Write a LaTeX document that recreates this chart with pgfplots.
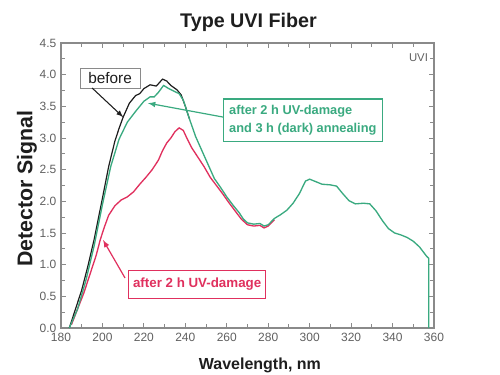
\documentclass[border=0pt]{standalone}
\usepackage{pgfplots}
\pgfplotsset{compat=1.18}
\usepackage{fontspec}
\setmainfont{Liberation Sans}
\definecolor{cgreen}{HTML}{3AAA80}
\definecolor{cred}{HTML}{E0305E}
\definecolor{cblack}{HTML}{1E1E1E}
\definecolor{cgray}{HTML}{606060}
\definecolor{cframe}{HTML}{8A8A8A}
\begin{document}
\begin{tikzpicture}[x=0.75pt,y=0.75pt]
\useasboundingbox (-61,-47) rectangle (439,328);
\begin{axis}[
  at={(0,0)}, anchor=south west,
  scale only axis, width=279.75pt, height=213.75pt,
  xmin=180, xmax=360, ymin=0, ymax=4.5,
  xtick={180,200,...,360}, minor xtick={190,210,...,350},
  ytick={0,0.5,...,4.5}, minor ytick={0.25,0.75,...,4.25},
  yticklabel style={/pgf/number format/.cd,fixed,fixed zerofill,precision=1},
  /pgf/number format/assume math mode=true,
  tick align=inside, major tick length=4pt, minor tick length=3pt,
  axis line style={cframe, line width=0.8pt},
  every tick/.style={cframe, line width=0.7pt},
  tick label style={font=\fontsize{9}{10}\selectfont, text=cgray},
  clip=false,
]
% red: after 2 h UV-damage
\addplot[cred, line width=1pt] coordinates {
(185,0.05) (188,0.3) (191,0.55) (194,0.85) (197,1.15) (199,1.4) (201,1.6) (203,1.78)
(206,1.93) (209,2.02) (212,2.07) (215,2.15) (218,2.27) (221,2.38) (224,2.5) (227,2.65)
(229,2.8) (231,2.92) (233,3.0) (235,3.1) (237,3.16) (239,3.12) (241,2.98) (243,2.85)
(246,2.7) (249,2.55) (252,2.38) (255,2.25) (258,2.12) (261,1.98) (264,1.85) (267,1.72)
(270,1.63) (273,1.61) (276,1.62) (278,1.58) (280,1.61) (283,1.71)
};
% black: before
\addplot[cblack, line width=0.9pt] coordinates {
(184,0) (187,0.3) (190,0.6) (193,0.98) (196,1.4) (200,2.05) (203,2.55) (206,2.95)
(208,3.15) (210,3.33) (213,3.55) (216,3.67) (218,3.7) (220,3.78) (223,3.84) (226,3.82)
(229,3.93) (231,3.9) (233,3.83) (236,3.76) (238,3.68) (240,3.5) (242,3.3)
};
% green: after annealing
\addplot[cgreen, line width=1pt] coordinates {
(184,0) (188,0.3) (192,0.75) (196,1.3) (200,1.95) (204,2.55) (208,2.98) (212,3.25)
(216,3.42) (220,3.58) (223,3.65) (225,3.65) (227,3.72) (229.5,3.83) (232,3.78)
(237,3.7) (239,3.6) (242,3.3) (245,3.02) (248,2.8) (251,2.58) (254,2.36) (257,2.22)
(260,2.07) (263,1.94) (266,1.82) (268,1.72) (270,1.66) (273,1.64) (276,1.65) (278,1.61)
(280,1.63) (283,1.73) (286,1.79) (289,1.86) (292,1.97) (295,2.12) (298,2.32) (300,2.35)
(303,2.31) (306,2.27) (310,2.26) (313,2.24) (316,2.12) (319,2.01) (322,1.96) (326,1.97)
(329,1.96) (332,1.85) (335,1.7) (338,1.57) (341,1.5) (344,1.47) (347,1.43) (350,1.37)
(353,1.28) (356.5,1.13) (357.5,1.1) (357.5,0)
};
% annotations
\node[draw=cframe, fill=white, inner sep=1pt, font=\fontsize{11.5}{12}\selectfont, text=cblack,
  minimum width=45pt, minimum height=15pt] (bf) at (axis cs:203.7,3.95) {before};
\draw[-latex, cblack, line width=0.8pt] (axis cs:195,3.79) -- (axis cs:210,3.33);
\draw[-latex, cgreen, line width=0.9pt] (axis cs:258.3,3.33) -- (axis cs:222,3.55);
\node[draw=cgreen, line width=0.9pt, fill=white, text=cgreen, align=left, inner sep=2pt,
  font=\bfseries\fontsize{9.6}{13.5}\selectfont, minimum width=119pt, minimum height=32pt]
  at (axis cs:296.7,3.28) {after 2 h UV-damage\\and 3 h (dark) annealing};
\draw[-latex, cred, line width=0.9pt] (axis cs:210.9,0.79) -- (axis cs:200.3,1.39);
\node[draw=cred, line width=0.9pt, fill=white, text=cred, inner sep=2pt,
  font=\bfseries\fontsize{10}{11}\selectfont, minimum width=103pt, minimum height=21pt]
  at (axis cs:245.7,0.687) {after 2 h UV-damage};
\node[text=cgray, font=\fontsize{8.5}{9}\selectfont] at (axis cs:352.5,4.27) {UVI};
\node[font=\bfseries\fontsize{14.8}{16}\selectfont, text=cblack] at (axis cs:270.5,4.83) {Type UVI Fiber};
\node[font=\bfseries\fontsize{12}{13}\selectfont, text=cblack] at (axis cs:276,-0.585) {Wavelength, nm};
\node[font=\bfseries\fontsize{16}{17}\selectfont, text=cblack, rotate=90] at (axis cs:163.5,2.2) {Detector Signal};
\end{axis}
\end{tikzpicture}
\end{document}
